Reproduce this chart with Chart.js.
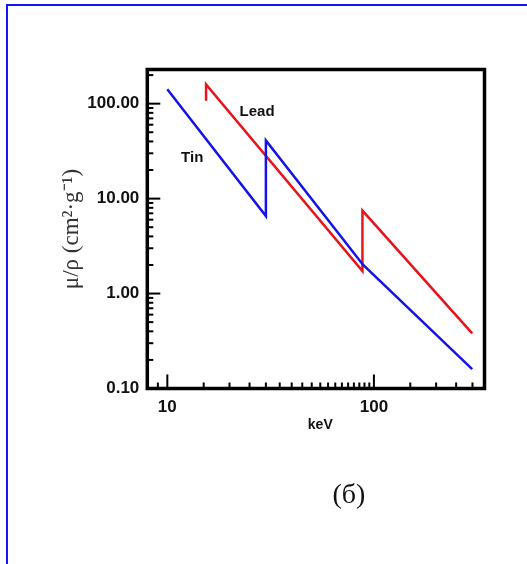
<!DOCTYPE html>
<html>
<head>
<meta charset="utf-8">
<script src="https://cdn.jsdelivr.net/npm/chart.js@4.4.1/dist/chart.umd.min.js"></script>
<style>
body{margin:0;background:#fff;overflow:hidden;}
#grafico{position:absolute;left:0;top:0;}
#marco{position:absolute;left:6px;top:4px;width:600px;height:700px;border:2px solid #1414ff;pointer-events:none;}
#leyenda{position:absolute;left:290px;width:118px;top:478px;text-align:center;font-family:"Liberation Serif",serif;font-size:28px;color:#111;}
</style>
</head>
<body>
<canvas id="grafico" width="527" height="564"></canvas>
<div id="marco"></div>
<div id="leyenda">(б)</div>
<script>
// energia (keV) y coeficiente de atenuacion masica (cm2/g)
const energiaTin = [10, 30, 30, 88.5, 299];
const muTin = [142, 6.55, 41, 2.01, 0.16];

const energiaLead = [15.4, 15.4, 88, 88, 299];
const muLead = [107, 159, 1.73, 7.47, 0.38];

const ticksY = [0.1, 1, 10, 100];
const ticksX = [10, 100];
const ticksXMenores = [9, 15, 20, 25, 30, 35, 40, 45, 50, 55, 60, 65, 70, 75, 80, 85, 90, 95, 150, 200, 250, 300];

const nombresSeries = ["Tin", "Lead"];
const coloresSeries = ["#1414e6", "#e8141c"];
const etiquetaX = [13.2, 27.2];
const etiquetaY = [26.7, 82.6];

function puntos(xs, ys){
    return xs.map((x, i) => ({x: x, y: ys[i]}));
}

const marcas = {
    id: "marcas",
    afterDraw(chart){
        const ctx = chart.ctx;
        const a = chart.chartArea;
        const sx = chart.scales.x;
        const sy = chart.scales.y;

        ctx.save();
        ctx.strokeStyle = "#000";
        ctx.lineCap = "butt";

        // ticks eje y
        ctx.lineWidth = 2;
        for (let d = -1; d <= 2; d++) {
            for (let m = 1; m <= 9; m++) {
                const v = m * Math.pow(10, d);
                if (v < sy.min || v > sy.max) continue;
                const py = sy.getPixelForValue(v);
                const largo = m === 1 ? 13 : 6;
                ctx.beginPath();
                ctx.moveTo(a.left, py);
                ctx.lineTo(a.left + largo, py);
                ctx.stroke();
            }
        }

        // ticks eje x
        ticksX.forEach(v => {
            const px = sx.getPixelForValue(v);
            ctx.beginPath();
            ctx.moveTo(px, a.bottom);
            ctx.lineTo(px, a.bottom - 14);
            ctx.stroke();
        });
        ticksXMenores.forEach(v => {
            const px = sx.getPixelForValue(v);
            ctx.beginPath();
            ctx.moveTo(px, a.bottom);
            ctx.lineTo(px, a.bottom - 6);
            ctx.stroke();
        });

        // marco
        ctx.lineWidth = 3.5;
        ctx.strokeRect(a.left, a.top, a.right - a.left, a.bottom - a.top);

        // nombres de las curvas
        ctx.fillStyle = "#111";
        ctx.font = "bold 15px 'Liberation Sans', Arial, sans-serif";
        ctx.textAlign = "center";
        ctx.textBaseline = "middle";
        nombresSeries.forEach((n, i) => {
            ctx.fillText(n, sx.getPixelForValue(etiquetaX[i]), sy.getPixelForValue(etiquetaY[i]));
        });

        // titulo eje x
        ctx.font = "bold 14px 'Liberation Sans', Arial, sans-serif";
        ctx.fillText("keV", sx.getPixelForValue(55), 425.5);
        ctx.restore();
    }
};

new Chart(document.getElementById("grafico"), {
    type: "line",
    data: {
        datasets: [
            {
                label: nombresSeries[0],
                data: puntos(energiaTin, muTin),
                borderColor: coloresSeries[0],
                borderWidth: 2.5,
                pointRadius: 0,
                tension: 0,
                fill: false
            },
            {
                label: nombresSeries[1],
                data: puntos(energiaLead, muLead),
                borderColor: coloresSeries[1],
                borderWidth: 2.5,
                pointRadius: 0,
                tension: 0,
                fill: false
            }
        ]
    },
    options: {
        responsive: false,
        animation: false,
        events: [],
        layout: {padding: {left: 0, top: 69.5, right: 42.5, bottom: 0}},
        plugins: {
            legend: {display: false},
            tooltip: {enabled: false}
        },
        scales: {
            x: {
                type: "logarithmic",
                min: 8,
                max: 343,
                bounds: "data",
                grid: {display: false, drawTicks: false, tickLength: 0},
                border: {display: false},
                afterBuildTicks: s => { s.ticks = ticksX.map(v => ({value: v})); },
                afterFit: s => { s.height = 564 - 388.5; },
                ticks: {
                    autoSkip: false,
                    maxRotation: 0,
                    padding: 9,
                    color: "#111",
                    font: {family: "'Liberation Sans', Arial, sans-serif", size: 17, weight: "bold"},
                    callback: v => String(v)
                }
            },
            y: {
                type: "logarithmic",
                min: 0.1,
                max: 229,
                bounds: "data",
                grid: {display: false, drawTicks: false, tickLength: 0},
                border: {display: false},
                afterBuildTicks: s => { s.ticks = ticksY.map(v => ({value: v})); },
                afterFit: s => { s.width = 147.3; },
                ticks: {
                    autoSkip: false,
                    padding: 8,
                    color: "#111",
                    font: {family: "'Liberation Sans', Arial, sans-serif", size: 17, weight: "bold"},
                    callback: v => Number(v).toFixed(2)
                },
                title: {
                    display: true,
                    text: "μ/ρ (cm²·g⁻¹)",
                    color: "#333",
                    font: {family: "'Liberation Serif', 'Times New Roman', serif", size: 23},
                    padding: {top: 58, bottom: 0}
                }
            }
        }
    },
    plugins: [marcas]
});
</script>
</body>
</html>
